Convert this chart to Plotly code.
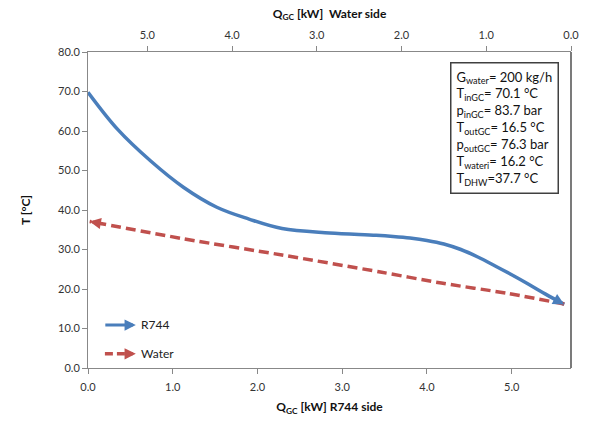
import plotly.graph_objects as go

# R744 side (bottom axis)
r744_q = [0.0, 0.35, 0.74, 1.13, 1.52, 1.90, 2.29, 2.85, 3.40, 3.60, 3.80, 4.00, 4.20, 4.40,
          4.60, 4.80, 5.00, 5.20, 5.40, 5.62]
r744_t = [69.8, 60.4, 52.4, 45.7, 40.7, 37.7, 35.3, 34.2, 33.6, 33.3, 32.9, 32.3, 31.4, 30.0,
          28.1, 25.9, 23.6, 21.2, 18.7, 16.1]

# Water side (top axis, reversed)
water_q = [0.08, 0.75, 1.53, 2.25, 3.41, 4.57, 5.68]
water_t = [16.2, 18.9, 21.5, 24.3, 28.6, 32.7, 37.1]

x_ticks = [0, 1, 2, 3, 4, 5]
y_ticks = [0, 10, 20, 30, 40, 50, 60, 70, 80]
q_max = 5.7

info_lines = [
    "G<sub>water</sub>= 200 kg/h",
    "T<sub>inGC</sub>= 70.1 °C",
    "p<sub>inGC</sub>= 83.7 bar",
    "T<sub>outGC</sub>= 16.5 °C",
    "p<sub>outGC</sub>= 76.3 bar",
    "T<sub>wateri</sub>= 16.2 °C",
    "T<sub>DHW</sub>=37.7 °C",
]

BLUE = "#4a7ebb"
RED = "#c0504d"
FONT = "Lato"

fig = go.Figure()
fig.add_trace(go.Scatter(x=r744_q, y=r744_t, mode="lines", name="R744",
                         line=dict(color=BLUE, width=3.5, shape="spline", smoothing=1.0),
                         xaxis="x", yaxis="y"))
fig.add_trace(go.Scatter(x=water_q, y=water_t, mode="lines", name="Water",
                         line=dict(color=RED, width=3.5, dash="10px,5px", shape="spline", smoothing=0.8),
                         xaxis="x2", yaxis="y"))

# arrowheads at the end of each curve
fig.add_annotation(x=r744_q[-1], y=r744_t[-1],
                   ax=r744_q[-2] + (r744_q[-1]-r744_q[-2])*0.5,
                   ay=r744_t[-2] + (r744_t[-1]-r744_t[-2])*0.5,
                   xref="x", yref="y", axref="x", ayref="y", text="",
                   showarrow=True, arrowhead=2, arrowsize=0.75, arrowwidth=3, arrowcolor=BLUE,
                   standoff=0)
fig.add_annotation(x=water_q[-1], y=water_t[-1],
                   ax=water_q[-2] + (water_q[-1]-water_q[-2])*0.85,
                   ay=water_t[-2] + (water_t[-1]-water_t[-2])*0.85,
                   xref="x2", yref="y", axref="x2", ayref="y", text="",
                   showarrow=True, arrowhead=2, arrowsize=0.75, arrowwidth=3, arrowcolor=RED,
                   standoff=0)

# custom legend
fig.add_annotation(x=0.099, y=0.136, xref="paper", yref="paper", ax=-32, ay=0,
                   text="", showarrow=True, arrowhead=2, arrowsize=0.75, arrowwidth=3,
                   arrowcolor=BLUE, standoff=0)
fig.add_annotation(x=0.106, y=0.138, xref="paper", yref="paper", text="R744",
                   showarrow=False, xanchor="left", yanchor="middle",
                   font=dict(family=FONT, size=12, color="#222"))
fig.add_shape(type="line", xref="paper", yref="paper", x0=0.035, x1=0.080, y0=0.045, y1=0.045,
              line=dict(color=RED, width=3.5, dash="8px,4px"))
fig.add_annotation(x=0.099, y=0.045, xref="paper", yref="paper", ax=-10, ay=0,
                   text="", showarrow=True, arrowhead=2, arrowsize=0.75, arrowwidth=3,
                   arrowcolor=RED, standoff=0)
fig.add_annotation(x=0.106, y=0.047, xref="paper", yref="paper", text="Water",
                   showarrow=False, xanchor="left", yanchor="middle",
                   font=dict(family=FONT, size=12, color="#222"))

# info box
fig.add_annotation(x=0.976, y=0.969, xref="paper", yref="paper", xanchor="right", yanchor="top",
                   text="<br>".join(info_lines), align="left", showarrow=False,
                   font=dict(family=FONT, size=13, color="#111"),
                   bordercolor="#404040", borderwidth=1.5, borderpad=5, bgcolor="white")

# right border
fig.add_shape(type="line", xref="paper", yref="paper", x0=1, x1=1, y0=0, y1=1,
              line=dict(color="#222", width=1.2))

tick_font = dict(family=FONT, size=11, color="#333")
axis_common = dict(showgrid=False, zeroline=False, showline=True, linecolor="#888",
                   linewidth=1, ticks="outside", ticklen=5, tickcolor="#888",
                   tickformat=".1f", tickfont=tick_font)

fig.update_layout(
    width=590, height=423,
    margin=dict(l=88, r=11, t=52, b=53),
    plot_bgcolor="white", paper_bgcolor="white",
    showlegend=False,
    xaxis=dict(range=[0, q_max], tickvals=x_ticks, ticklabelstandoff=4, **axis_common,
               title=dict(text="<b>Q<sub>GC</sub> [kW] R744 side</b>",
                          font=dict(family=FONT, size=12, color="#111"), standoff=10)),
    xaxis2=dict(range=[q_max, 0], tickvals=x_ticks, overlaying="x", side="top",
                ticklabelstandoff=3, **axis_common,
                title=dict(text="<b>Q<sub>GC</sub> [kW]  Water side</b>",
                           font=dict(family=FONT, size=12, color="#111"), standoff=6)),
    yaxis=dict(range=[0, 80], tickvals=y_ticks, **axis_common,
               title=dict(text="<b>T [°C]</b>", font=dict(family=FONT, size=12, color="#111"),
                          standoff=24)),
)

fig.write_html("out.html")
